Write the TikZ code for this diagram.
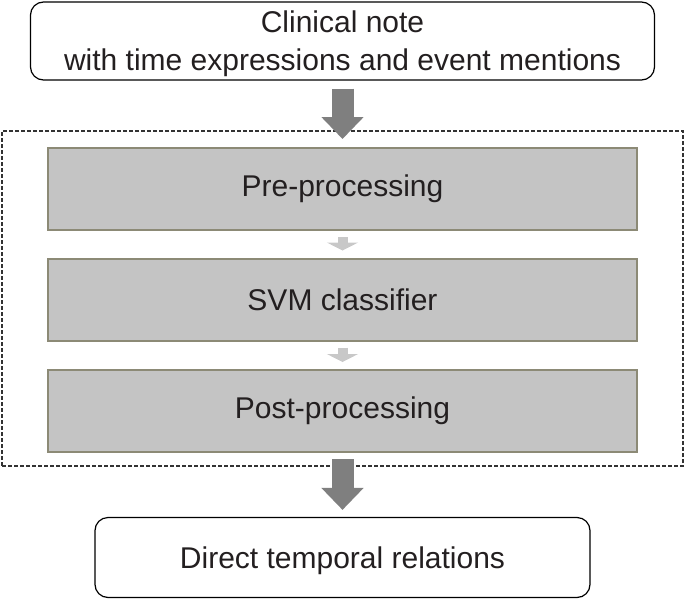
\documentclass[tikz,border=0pt]{standalone}
\usepackage{fontspec}
\setmainfont{Liberation Sans}
\usetikzlibrary{arrows.meta}

\definecolor{txt}{HTML}{231F20}
\definecolor{stepfill}{HTML}{C4C4C4}
\definecolor{stepline}{HTML}{8C8A76}
\definecolor{bigarrow}{HTML}{7F7F7F}
\definecolor{smallarrow}{HTML}{C8C8C8}

\begin{document}
\begin{tikzpicture}[x=1pt,y=-1pt,
  endbox/.style={draw=black, line width=1.2pt, rounded corners=13pt, text=txt, align=center, inner sep=0pt, text depth=0pt, font=\fontsize{30}{38}\selectfont},
  stepbox/.style={draw=stepline, fill=stepfill, line width=2pt, minimum width=589pt, minimum height=82pt, text=txt, inner sep=0pt, font=\fontsize{30}{38}\selectfont},
  bigflow/.style={draw=bigarrow, line width=22pt, -{Triangle[width=41pt,length=22pt,fill=bigarrow]}},
  smallflow/.style={draw=smallarrow, line width=10pt, -{Triangle[width=31pt,length=8pt,fill=smallarrow]}}]

\useasboundingbox (0,0) rectangle (685,600);

\node[endbox, minimum width=624pt, minimum height=78pt] (note) at (342.5,41) {Clinical note\\with time expressions and event mentions};
\node[draw=black!80, dash pattern=on 4pt off 2pt, line width=1.1pt, minimum width=681pt, minimum height=335pt] (frame) at (342.5,298.5) {};
\node[stepbox] (pre) at (342.5,189) {Pre-processing};
\node[stepbox] (svm) at (342.5,299.5) {SVM classifier};
\node[stepbox] (post) at (342.5,411) {Post-processing};
\node[endbox, minimum width=495pt, minimum height=80pt] (rel) at (342.5,557.5) {Direct temporal relations};

\draw[bigflow, shorten <=8pt, shorten >=8pt] (note.south) -- (pre.north);
\draw[smallflow, shorten <=6pt, shorten >=7pt] (pre.south) -- (svm.north);
\draw[smallflow, shorten <=6pt, shorten >=7pt] (svm.south) -- (post.north);
\draw[bigflow, shorten <=6pt, shorten >=7pt] (post.south) -- (rel.north);

\end{tikzpicture}
\end{document}
